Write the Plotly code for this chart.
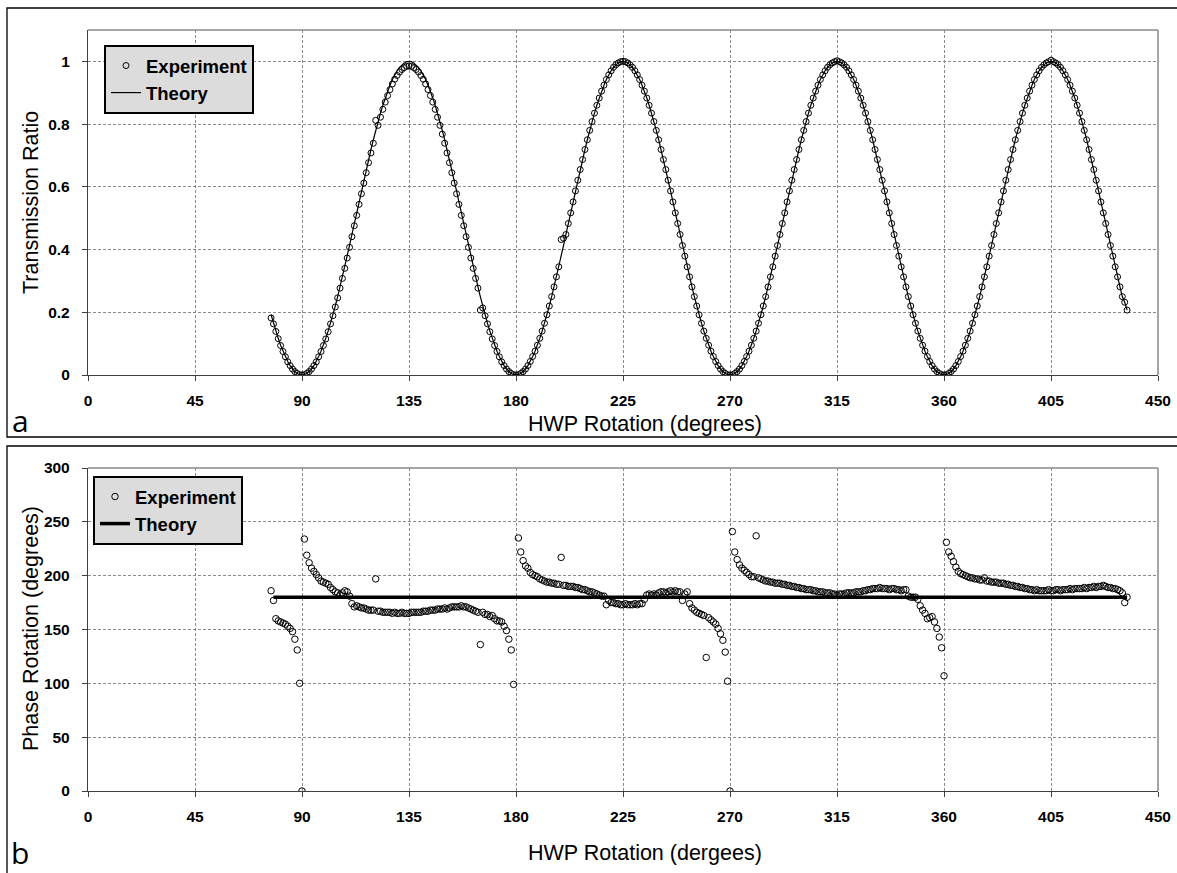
import plotly.graph_objects as go

W, H = 1177, 873

# ---------------- data ----------------
deg = list(range(77, 438))  # HWP rotation (degrees), 1-degree steps

trans_exp = [
    .182, .163, .139, .116, .094, .075, .058, .042, .030, .019, .011, .005, .001,
    # 90-179
    0, .001, .005, .011, .019, .030, .042, .058, .075, .094,
    .115, .138, .163, .189, .217, .246, .277, .308, .340, .373,
    .407, .441, .476, .509, .544, .578, .612, .645, .677, .708,
    .739, .812, .796, .822, .847, .870, .891, .910, .928, .943,
    .955, .966, .974, .980, .984, .985, .984, .980, .974, .966,
    .955, .943, .928, .910, .891, .870, .847, .822, .796, .768,
    .739, .708, .677, .645, .612, .578, .544, .509, .476, .441,
    .407, .373, .340, .308, .277, .207, .214, .189, .163, .138,
    .115, .094, .075, .058, .042, .030, .019, .011, .005, .001,
    # 180-269
    0, .001, .005, .011, .019, .030, .043, .059, .076, .095,
    .117, .140, .165, .192, .220, .250, .281, .313, .345, .432,
    .436, .448, .483, .517, .552, .587, .621, .655, .687, .719,
    .750, .780, .808, .835, .860, .883, .905, .924, .942, .957,
    .970, .981, .989, .995, .999, 1.0, .999, .995, .989, .981,
    .970, .957, .942, .924, .905, .883, .860, .835, .808, .780,
    .750, .719, .687, .655, .621, .587, .552, .517, .483, .448,
    .413, .379, .345, .313, .281, .250, .220, .192, .165, .140,
    .117, .095, .076, .059, .043, .030, .019, .011, .005, .001,
    # 270-359
    0, .001, .005, .011, .019, .030, .043, .059, .076, .095,
    .117, .140, .165, .192, .220, .250, .281, .313, .345, .379,
    .413, .448, .483, .517, .552, .587, .621, .655, .687, .719,
    .750, .780, .808, .835, .860, .883, .905, .924, .942, .957,
    .970, .981, .989, .995, .999, 1.002, .999, .995, .989, .981,
    .970, .957, .942, .924, .905, .883, .860, .835, .808, .780,
    .750, .719, .687, .655, .621, .587, .552, .517, .483, .448,
    .413, .379, .345, .313, .281, .250, .220, .192, .165, .140,
    .117, .095, .076, .059, .043, .030, .019, .011, .005, .001,
    # 360-437
    0, .001, .005, .011, .019, .030, .043, .059, .076, .095,
    .117, .140, .165, .192, .220, .250, .281, .313, .345, .379,
    .413, .448, .483, .517, .552, .587, .621, .655, .687, .719,
    .750, .780, .808, .835, .860, .883, .905, .924, .942, .957,
    .970, .981, .989, .995, .999, 1.004, .999, .995, .989, .981,
    .970, .957, .942, .924, .905, .883, .860, .835, .808, .780,
    .750, .719, .687, .655, .621, .587, .552, .517, .483, .448,
    .413, .379, .345, .313, .281, .250, .232, .207,
]

trans_theory = [
    .192, .165, .140, .117, .095, .076, .059, .043, .030, .019, .011, .005, .001,
    # 90-179
    0, .001, .005, .011, .019, .030, .043, .059, .076, .095,
    .117, .140, .165, .192, .220, .250, .281, .313, .345, .379,
    .413, .448, .483, .517, .552, .587, .621, .655, .687, .719,
    .750, .780, .808, .835, .860, .883, .905, .924, .942, .957,
    .970, .981, .989, .995, .999, 1.0, .999, .995, .989, .981,
    .970, .957, .942, .924, .905, .883, .860, .835, .808, .780,
    .750, .719, .687, .655, .621, .587, .552, .517, .483, .448,
    .413, .379, .345, .313, .281, .250, .220, .192, .165, .140,
    .117, .095, .076, .059, .043, .030, .019, .011, .005, .001,
    # 180-269
    0, .001, .005, .011, .019, .030, .043, .059, .076, .095,
    .117, .140, .165, .192, .220, .250, .281, .313, .345, .379,
    .413, .448, .483, .517, .552, .587, .621, .655, .687, .719,
    .750, .780, .808, .835, .860, .883, .905, .924, .942, .957,
    .970, .981, .989, .995, .999, 1.0, .999, .995, .989, .981,
    .970, .957, .942, .924, .905, .883, .860, .835, .808, .780,
    .750, .719, .687, .655, .621, .587, .552, .517, .483, .448,
    .413, .379, .345, .313, .281, .250, .220, .192, .165, .140,
    .117, .095, .076, .059, .043, .030, .019, .011, .005, .001,
    # 270-359
    0, .001, .005, .011, .019, .030, .043, .059, .076, .095,
    .117, .140, .165, .192, .220, .250, .281, .313, .345, .379,
    .413, .448, .483, .517, .552, .587, .621, .655, .687, .719,
    .750, .780, .808, .835, .860, .883, .905, .924, .942, .957,
    .970, .981, .989, .995, .999, 1.0, .999, .995, .989, .981,
    .970, .957, .942, .924, .905, .883, .860, .835, .808, .780,
    .750, .719, .687, .655, .621, .587, .552, .517, .483, .448,
    .413, .379, .345, .313, .281, .250, .220, .192, .165, .140,
    .117, .095, .076, .059, .043, .030, .019, .011, .005, .001,
    # 360-437
    0, .001, .005, .011, .019, .030, .043, .059, .076, .095,
    .117, .140, .165, .192, .220, .250, .281, .313, .345, .379,
    .413, .448, .483, .517, .552, .587, .621, .655, .687, .719,
    .750, .780, .808, .835, .860, .883, .905, .924, .942, .957,
    .970, .981, .989, .995, .999, 1.0, .999, .995, .989, .981,
    .970, .957, .942, .924, .905, .883, .860, .835, .808, .780,
    .750, .719, .687, .655, .621, .587, .552, .517, .483, .448,
    .413, .379, .345, .313, .281, .250, .232, .207,
]

phase_exp = [
    186, 177, 160,
    158, 157, 156, 155, 153, 151, 148, 141, 131, 100,   # 80-89
    0, 234, 219, 212, 207, 204, 201, 198, 195, 194,     # 90-99
    193, 192, 189, 187, 185, 184, 182, 184, 186, 185,   # 100-109
    181, 174, 171, 172, 171, 170, 170, 169, 168, 168,   # 110-119
    168, 197, 167, 167, 166, 166, 166, 166, 165, 166,   # 120-129
    165, 165, 166, 165, 165, 165, 166, 166, 166, 166,   # 130-139
    166, 167, 167, 167, 168, 168, 168, 169, 169, 169,   # 140-149
    170, 169, 170, 171, 171, 171, 171, 172, 171, 171,   # 150-159
    170, 169, 168, 167, 166, 136, 166, 164, 164, 162,   # 160-169
    163, 160, 158, 158, 157, 153, 149, 141, 131, 99,    # 170-179
    None, 235, 222, 214, 209, 207, 203, 201, 200, 199,  # 180-189
    197, 196, 195, 194, 194, 193, 193, 192, 192, 217,   # 190-199
    191, 191, 190, 190, 190, 189, 189, 188, 187, 187,   # 200-209
    186, 185, 185, 184, 183, 182, 181, 181, 173, 177,   # 210-219
    175, 175, 174, 174, 173, 173, 174, 173, 173, 173,   # 220-229
    174, 173, 174, 174, 178, 182, 183, 182, 183, 182,   # 230-239
    184, 185, 185, 184, 185, 186, 185, 186, 185, 185,   # 240-249
    177, 183, 185, 174, 170, 168, 166, 165, 164, 163,   # 250-259
    124, 161, 159, 157, 155, 151, 146, 140, 129, 102,   # 260-269
    0, 241, 222, 215, 210, 207, 205, 203, 201, 199,     # 270-279
    199, 237, 198, 197, 196, 195, 195, 194, 194, 193,   # 280-289
    193, 193, 192, 192, 191, 191, 190, 190, 189, 189,   # 290-299
    188, 188, 187, 187, 187, 186, 186, 185, 185, 185,   # 300-309
    184, 184, 184, 183, 183, 182, 183, 183, 183, 184,   # 310-319
    184, 184, 184, 185, 185, 185, 186, 186, 187, 187,   # 320-329
    188, 188, 188, 189, 188, 188, 188, 187, 188, 188,   # 330-339
    187, 187, 186, 187, 187, 181, 180, 180, 180, 178,   # 340-349
    172, 168, 165, 160, 161, 162, 157, 151, 143, 133,   # 350-359
    107, 231, 222, 218, 213, 208, 204, 202, 201, 200,   # 360-369
    199, 198, 198, 197, 197, 196, 196, 198, 195, 195,   # 370-379
    194, 194, 194, 193, 193, 193, 192, 192, 191, 191,   # 380-389
    190, 190, 189, 189, 188, 188, 187, 187, 186, 187,   # 390-399
    186, 186, 186, 186, 187, 186, 186, 187, 187, 186,   # 400-409
    187, 187, 187, 188, 187, 188, 188, 188, 188, 189,   # 410-419
    188, 189, 189, 190, 189, 190, 190, 191, 190, 189,   # 420-429
    189, 188, 188, 187, 186, 184, 175, 180,             # 430-437
]

phase_theory_x = [78, 437]
phase_theory = [180, 180]

x_ticks = [0, 45, 90, 135, 180, 225, 270, 315, 360, 405, 450]
trans_ticks = [0, 0.2, 0.4, 0.6, 0.8, 1]
trans_tick_text = ["0", "0.2", "0.4", "0.6", "0.8", "1"]
phase_ticks = [0, 50, 100, 150, 200, 250, 300]

# ---------------- figure ----------------
FONT = "Arial, Liberation Sans, sans-serif"
tickfont = dict(family=FONT, size=15.5, color="black", weight="bold")
legfont = dict(family=FONT, size=18.5, color="black", weight="bold")

marker = dict(symbol="circle-open", size=6, color="black", line=dict(width=1, color="black"))

fig = go.Figure()
fig.add_trace(go.Scatter(x=deg, y=trans_exp, mode="markers", name="Experiment",
                         marker=marker, xaxis="x", yaxis="y", legend="legend"))
fig.add_trace(go.Scatter(x=deg, y=trans_theory, mode="lines", name="Theory",
                         line=dict(color="black", width=1.2), xaxis="x", yaxis="y", legend="legend"))
fig.add_trace(go.Scatter(x=deg, y=phase_exp, mode="markers", name="Experiment",
                         marker=dict(marker, size=6.5), xaxis="x2", yaxis="y2", legend="legend2"))
fig.add_trace(go.Scatter(x=phase_theory_x, y=phase_theory, mode="lines", name="Theory",
                         line=dict(color="black", width=3.5), xaxis="x2", yaxis="y2", legend="legend2"))

xdom = [88 / W, 1158 / W]
ya_dom = [1 - 375 / H, 1 - 30 / H]
yb_dom = [1 - 791 / H, 1 - 468 / H]

grid = dict(showgrid=True, gridcolor="#8a8a8a", gridwidth=1, griddash="3px,2px", zeroline=False)
axline = dict(showline=True, linecolor="#404040", linewidth=1.3, ticks="outside", ticklen=5,
              tickcolor="#404040", tickwidth=1, tickfont=tickfont, automargin=False)

fig.update_layout(
    width=W, height=H,
    margin=dict(l=0, r=0, t=0, b=0, autoexpand=False),
    paper_bgcolor="white", plot_bgcolor="white",
    xaxis=dict(domain=xdom, range=[0, 450], tickmode="array", tickvals=x_ticks, anchor="y",
               ticklabelstandoff=6, **grid, **axline),
    yaxis=dict(domain=ya_dom, range=[0, 1.1], tickmode="array", tickvals=trans_ticks,
               ticktext=trans_tick_text, anchor="x", ticklabelstandoff=9, **grid, **axline),
    xaxis2=dict(domain=xdom, range=[0, 450], tickmode="array", tickvals=x_ticks, anchor="y2",
                ticklabelstandoff=6, **grid, **axline),
    yaxis2=dict(domain=yb_dom, range=[0, 300], tickmode="array", tickvals=phase_ticks,
                anchor="x2", ticklabelstandoff=9, **grid, **axline),
    showlegend=True,
    legend=dict(x=104 / W, y=1 - 45 / H, xanchor="left", yanchor="top",
                bgcolor="#dcdcdc", bordercolor="black", borderwidth=2, font=legfont,
                tracegroupgap=0, itemsizing="trace", entrywidth=112, entrywidthmode="pixels"),
    legend2=dict(x=93 / W, y=1 - 476 / H, xanchor="left", yanchor="top",
                 bgcolor="#dcdcdc", bordercolor="black", borderwidth=2, font=legfont,
                 tracegroupgap=0, itemsizing="trace", entrywidth=128, entrywidthmode="pixels"),
)

shapes = []
# outer chart frames
shapes.append(dict(type="rect", xref="paper", yref="paper", x0=7 / W, x1=1.02,
                   y0=1 - 437 / H, y1=1 - 8 / H, line=dict(color="black", width=1.3)))
shapes.append(dict(type="rect", xref="paper", yref="paper", x0=7 / W, x1=1.02,
                   y0=-0.02, y1=1 - 446 / H, line=dict(color="black", width=1.3)))
# plot-area top/right borders (gray)
for xa, ya in (("x", "y"), ("x2", "y2")):
    shapes.append(dict(type="line", xref=f"{xa} domain", yref=f"{ya} domain", x0=0, x1=1, y0=1, y1=1,
                       line=dict(color="#8a8a8a", width=1.5)))
    shapes.append(dict(type="line", xref=f"{xa} domain", yref=f"{ya} domain", x0=1, x1=1, y0=0, y1=1,
                       line=dict(color="#8a8a8a", width=1.5)))
fig.update_layout(shapes=shapes)

title_font = dict(family=FONT, size=21.5, color="black")
ann = [
    dict(text="Transmission Ratio", x=31 / W, y=1 - 203 / H, textangle=-90, font=title_font),
    dict(text="HWP Rotation (degrees)", x=645 / W, y=1 - 424 / H, font=title_font),
    dict(text="Phase Rotation (degrees)", x=31 / W, y=1 - 629 / H, textangle=-90, font=title_font),
    dict(text="HWP Rotation (dergees)", x=645 / W, y=1 - 853 / H, font=title_font),
    dict(text="a", x=20 / W, y=1 - 420 / H, font=dict(family="Open Sans, sans-serif", size=30, color="black")),
    dict(text="b", x=20 / W, y=1 - 852 / H, font=dict(family="Open Sans, sans-serif", size=30, color="black")),
]
for a in ann:
    a.update(xref="paper", yref="paper", showarrow=False, xanchor="center", yanchor="middle")
fig.update_layout(annotations=ann)

# remove the default 8px page margin so the figure sits at the window's top-left corner
fig.write_html("out.html", config={"displayModeBar": False},
               post_script="document.body.style.margin='0px';document.body.style.overflow='hidden';")
